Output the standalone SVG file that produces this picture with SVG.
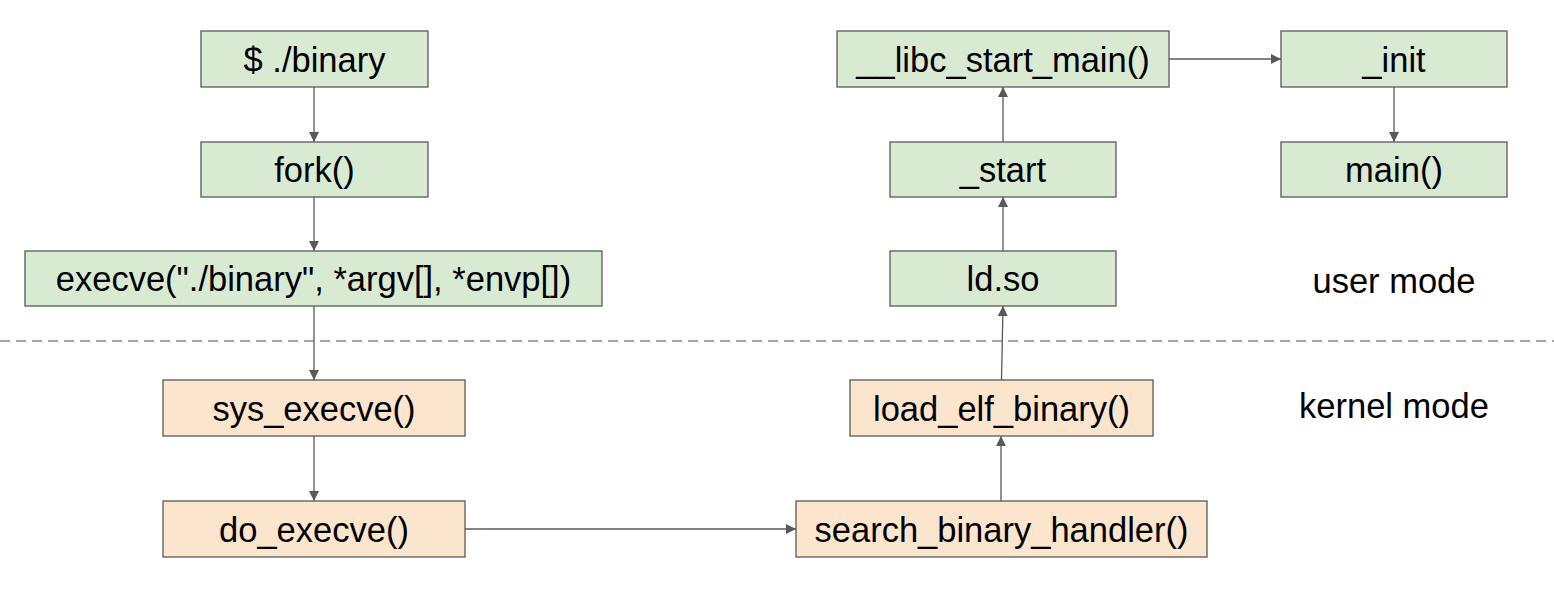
<svg xmlns="http://www.w3.org/2000/svg" width="1554" height="597" viewBox="0 0 1554 597">
<style>
.box rect{stroke:#595959;stroke-width:1.3}
.user rect{fill:#d9ead3}
.kern rect{fill:#fce5cd}
text{font-family:"Liberation Sans",Arial,sans-serif;font-size:34.5px;fill:#000;text-anchor:middle}
.conn line{stroke:#595959;stroke-width:1.3;fill:none}
</style>
<defs>
<marker id="ah" viewBox="0 0 10 10" refX="10" refY="5" markerWidth="10" markerHeight="10" markerUnits="userSpaceOnUse" orient="auto">
<path d="M0,0 L10,5 L0,10 Z" fill="#595959"/>
</marker>
</defs>
<rect width="1554" height="597" fill="#fff"/>
<line x1="0" y1="341" x2="1554" y2="341" stroke="#8c8c8c" stroke-width="1.3" stroke-dasharray="10,6"/>
<g class="conn">
<line x1="314" y1="87" x2="314" y2="142" marker-end="url(#ah)"/>
<line x1="314" y1="197" x2="314" y2="251" marker-end="url(#ah)"/>
<line x1="314" y1="306" x2="314" y2="380" marker-end="url(#ah)"/>
<line x1="314" y1="436" x2="314" y2="501" marker-end="url(#ah)"/>
<line x1="465" y1="529" x2="796" y2="529" marker-end="url(#ah)"/>
<line x1="1001" y1="501" x2="1001" y2="436" marker-end="url(#ah)"/>
<line x1="1001.5" y1="380" x2="1003" y2="306" marker-end="url(#ah)"/>
<line x1="1003" y1="251" x2="1003" y2="197" marker-end="url(#ah)"/>
<line x1="1003" y1="142" x2="1003" y2="87" marker-end="url(#ah)"/>
<line x1="1169" y1="59" x2="1281" y2="59" marker-end="url(#ah)"/>
<line x1="1394" y1="87" x2="1394" y2="142" marker-end="url(#ah)"/>
</g>
<g id="n-binary" class="box user"><rect x="201" y="31" width="227" height="56"/><text x="314.5" y="71.5">$ ./binary</text></g>
<g id="n-fork" class="box user"><rect x="201" y="142" width="227" height="55"/><text x="314.5" y="182">fork()</text></g>
<g id="n-execve" class="box user"><rect x="25" y="251" width="577" height="55"/><text x="313.5" y="291">execve("./binary", *argv[], *envp[])</text></g>
<g id="n-sys" class="box kern"><rect x="163" y="380" width="302" height="56"/><text x="314" y="420.5">sys_execve()</text></g>
<g id="n-do" class="box kern"><rect x="163" y="501" width="302" height="56"/><text x="314" y="541.5">do_execve()</text></g>
<g id="n-search" class="box kern"><rect x="796" y="501" width="411" height="56"/><text x="1001.5" y="541.5">search_binary_handler()</text></g>
<g id="n-load" class="box kern"><rect x="850" y="380" width="303" height="56"/><text x="1001.5" y="420.5">load_elf_binary()</text></g>
<g id="n-ld" class="box user"><rect x="890" y="251" width="226" height="55"/><text x="1003" y="291">ld.so</text></g>
<g id="n-start" class="box user"><rect x="890" y="142" width="226" height="55"/><text x="1003" y="182">_start</text></g>
<g id="n-libc" class="box user"><rect x="837" y="31" width="332" height="56"/><text x="1003" y="71.5">__libc_start_main()</text></g>
<g id="n-init" class="box user"><rect x="1281" y="31" width="226" height="56"/><text x="1394" y="71.5">_init</text></g>
<g id="n-main" class="box user"><rect x="1281" y="142" width="226" height="55"/><text x="1394" y="182">main()</text></g>
<g id="l-user"><text x="1394" y="292.5">user mode</text></g>
<g id="l-kernel"><text x="1394" y="417.5">kernel mode</text></g>
</svg>
